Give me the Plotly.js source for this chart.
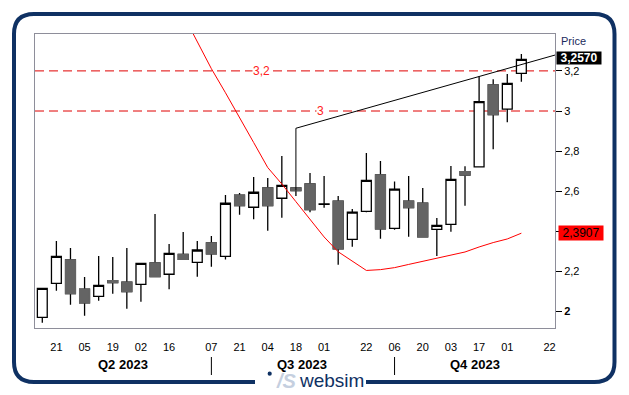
<!DOCTYPE html>
<html>
<head>
<meta charset="utf-8">
<script src="https://cdn.plot.ly/plotly-3.0.1.min.js"></script>
<style>
html,body{margin:0;padding:0;background:#fff;}
#chart{width:629px;height:395px;}
</style>
</head>
<body>
<div id="chart"></div>
<script>
// ---- data ----
const dates = ['2023-04-14','2023-04-21','2023-04-28','2023-05-05','2023-05-12','2023-05-19','2023-05-26',
  '2023-06-02','2023-06-09','2023-06-16','2023-06-23','2023-06-30','2023-07-07','2023-07-14','2023-07-21',
  '2023-07-28','2023-08-04','2023-08-11','2023-08-18','2023-08-25','2023-09-01','2023-09-08','2023-09-15',
  '2023-09-22','2023-09-29','2023-10-06','2023-10-13','2023-10-20','2023-10-27','2023-11-03','2023-11-10',
  '2023-11-17','2023-11-24','2023-12-01','2023-12-08'];
const openV  = [1.971,2.141,2.257,2.112,2.076,2.154,2.147,2.136,2.242,2.186,2.285,2.245,2.342,2.275,2.581,
  2.520,2.616,2.565,2.616,2.636,2.535,2.551,2.360,2.500,2.681,2.415,2.551,2.541,2.410,2.435,2.698,
  2.721,3.130,3.009,3.188];
const highV  = [2.116,2.352,2.317,2.172,2.277,2.272,2.317,2.240,2.486,2.337,2.397,2.352,2.377,2.581,2.591,
  2.671,2.666,2.776,2.616,2.691,2.676,2.576,2.511,2.791,2.751,2.648,2.676,2.616,2.466,2.726,2.724,
  3.172,3.158,3.185,3.284];
const lowV   = [1.944,2.104,2.034,1.979,2.054,2.089,2.014,2.049,2.174,2.111,2.260,2.174,2.223,2.260,2.483,
  2.460,2.403,2.468,2.576,2.495,2.518,2.233,2.323,2.495,2.363,2.408,2.373,2.373,2.277,2.398,2.528,
  2.721,2.809,2.944,3.146];
const closeV = [2.116,2.275,2.089,2.044,2.131,2.144,2.099,2.240,2.174,2.290,2.260,2.307,2.288,2.540,2.528,
  2.595,2.528,2.629,2.603,2.508,2.537,2.313,2.496,2.654,2.413,2.610,2.518,2.373,2.430,2.659,2.681,
  3.047,2.982,3.138,3.257];
const maV = [null,null,null,null,null,null,null,null,null,null,3.48,3.344,3.211,3.091,2.970,
  2.843,2.718,2.636,2.548,2.462,2.372,2.298,2.252,2.205,2.209,2.219,2.235,2.250,2.267,2.282,2.297,
  2.322,2.344,2.362,2.3907];
const trendX = ['2023-08-18','2023-08-18','2023-12-24 17:00'];
const trendY = [2.603,2.914,3.279];
const levels = [3.2, 3.0];
const levelLabels = ['3,2','3'];
const levelLabelX = ['2023-08-01','2023-08-30 10:00'];
const tickDates = ['2023-04-21','2023-05-05','2023-05-19','2023-06-02','2023-06-16','2023-07-07','2023-07-21',
  '2023-08-04','2023-08-18','2023-09-01','2023-09-22','2023-10-06','2023-10-20','2023-11-03','2023-11-17',
  '2023-12-01','2023-12-22'];
const tickText = ['21','05','19','02','16','07','21','04','18','01','22','06','20','03','17','01','22'];
const yTickVals = [2,2.2,2.4,2.6,2.8,3,3.2];
// the 2,4 label sits under the red last-value box in the reference, so it is left blank
const yTickText = ['<b>2</b>','2,2','','2,6','2,8','3','3,2'];
const quarterLabels = ['Q2 2023','Q3 2023','Q4 2023'];
const quarterX = ['2023-05-24','2023-08-21','2023-11-15'];
const quarterSeps = ['2023-07-07','2023-10-06'];
const lastPrice = 3.257, lastPriceText = '3,2570';
const lastMA = 2.3907, lastMAText = '2,3907';

// ---- geometry helpers (pixels -> paper) ----
const L = 35, T = 34, R = 555, B = 328;
const W = R - L, H = B - T;
const px = x => (x - L) / W;
const py = y => (B - y) / H;
const P = (x, y) => px(x).toFixed(5) + ',' + py(y).toFixed(5);

const NAVY = '#0f3163';
const FONT = 'Arial, "Liberation Sans", sans-serif';

// decreasing-only overlay (clean gray bodies over black wicks)
const dX = [], dO = [], dC = [];
for (let i = 0; i < dates.length; i++) {
  if (closeV[i] < openV[i]) { dX.push(dates[i]); dO.push(openV[i]); dC.push(closeV[i]); }
}

const traces = [
  {
    type: 'candlestick', x: dates, open: openV, high: highV, low: lowV, close: closeV,
    increasing: {line: {color: '#000', width: 1.3}, fillcolor: '#ffffff'},
    decreasing: {line: {color: '#000', width: 1.3}, fillcolor: '#646464'},
    whiskerwidth: 0, showlegend: false, hoverinfo: 'skip'
  },
  {
    type: 'candlestick', x: dX, open: dO, high: dO, low: dC, close: dC,
    increasing: {line: {color: '#646464', width: 1.3}, fillcolor: '#646464'},
    decreasing: {line: {color: '#646464', width: 1.3}, fillcolor: '#646464'},
    whiskerwidth: 0, showlegend: false, hoverinfo: 'skip'
  },
  {
    type: 'scatter', mode: 'lines', x: dates, y: maV,
    line: {color: '#ff0000', width: 1}, connectgaps: false, showlegend: false, hoverinfo: 'skip'
  },
  {
    type: 'scatter', mode: 'lines', x: trendX, y: trendY,
    line: {color: '#000000', width: 1}, showlegend: false, hoverinfo: 'skip'
  }
];

const shapes = [];
levels.forEach(v => shapes.push({
  type: 'line', xref: 'paper', yref: 'y', x0: 0, x1: 1, y0: v, y1: v,
  line: {color: '#e00000', width: 1, dash: '9px,5px'}, layer: 'below'
}));
quarterSeps.forEach(d => shapes.push({
  type: 'line', xref: 'x', yref: 'paper', x0: d, x1: d, y0: py(357), y1: py(375),
  line: {color: '#000', width: 1}
}));
// outer rounded frame with gap for logo
const frame = 'M' + P(255, 382) + ' L' + P(34, 382) + ' Q' + P(14, 382) + ' ' + P(14, 362) +
  ' L' + P(14, 34) + ' Q' + P(14, 14) + ' ' + P(34, 14) +
  ' L' + P(594.5, 14) + ' Q' + P(614.5, 14) + ' ' + P(614.5, 34) +
  ' L' + P(614.5, 362) + ' Q' + P(614.5, 382) + ' ' + P(594.5, 382) + ' L' + P(366, 382);
shapes.push({type: 'path', xref: 'paper', yref: 'paper', path: frame, line: {color: NAVY, width: 4}});
shapes.push({type: 'circle', xref: 'paper', yref: 'paper',
  x0: px(267.6), x1: px(271.8), y0: py(371.6), y1: py(375.8),
  fillcolor: NAVY, line: {width: 0}});

const annotations = [];
levels.forEach((v, i) => annotations.push({
  xref: 'x', yref: 'y', x: levelLabelX[i], y: v, xanchor: 'center', yanchor: 'middle',
  text: levelLabels[i], showarrow: false,
  font: {family: FONT, size: 12, color: '#ff2020'}, bgcolor: '#ffffff', borderpad: 0
}));
quarterLabels.forEach((t, i) => annotations.push({
  xref: 'x', yref: 'paper', x: quarterX[i], y: py(364), xanchor: 'center', yanchor: 'middle',
  text: '<b>' + t + '</b>', showarrow: false, font: {family: FONT, size: 13, color: '#000'}
}));
annotations.push({xref: 'paper', yref: 'paper', x: px(573), y: py(41), xanchor: 'center', yanchor: 'middle',
  text: 'Price', showarrow: false, font: {family: FONT, size: 11, color: '#1a2a5c'}});
annotations.push({xref: 'paper', yref: 'y', x: px(555.7), xanchor: 'left', y: lastPrice, yanchor: 'middle',
  yshift: 1, text: '<b>' + lastPriceText + '</b>', showarrow: false, bgcolor: '#000', width: 44, height: 12,
  font: {family: FONT, size: 12, color: '#fff'}, borderpad: 0});
annotations.push({xref: 'paper', yref: 'y', x: px(557.7), xanchor: 'left', y: lastMA, yanchor: 'middle',
  text: lastMAText, showarrow: false, bgcolor: '#ff0000', width: 44, height: 14,
  font: {family: FONT, size: 12, color: '#000'}, borderpad: 0});
annotations.push({xref: 'paper', yref: 'paper', x: px(286), y: py(381), xanchor: 'center', yanchor: 'middle',
  text: '<b><i>/S</i></b>', showarrow: false, font: {family: FONT, size: 20, color: '#c5cfdf'}});
annotations.push({xref: 'paper', yref: 'paper', x: px(331.5), y: py(380.5), xanchor: 'center', yanchor: 'middle',
  text: 'websim', showarrow: false,
  font: {family: FONT, size: 19, color: NAVY}});

const layout = {
  width: 629, height: 395,
  margin: {l: L, r: 629 - R, t: T, b: 395 - B, pad: 0},
  paper_bgcolor: '#ffffff', plot_bgcolor: '#ffffff',
  separators: ', ',
  showlegend: false,
  boxgap: 0.3, boxgroupgap: 0, boxmode: 'overlay',
  font: {family: FONT, color: '#000'},
  xaxis: {
    type: 'date', range: ['2023-04-10 09:00', '2023-12-24 17:00'],
    tickmode: 'array', tickvals: tickDates, ticktext: tickText,
    ticks: '', ticklabelstandoff: 9, showgrid: false, zeroline: false,
    showline: true, mirror: true, linecolor: '#8e8e9a', linewidth: 1,
    tickfont: {family: FONT, size: 11, color: '#000'},
    rangeslider: {visible: false}, fixedrange: true
  },
  yaxis: {
    side: 'right', range: [1.918, 3.384],
    tickmode: 'array', tickvals: yTickVals, ticktext: yTickText,
    ticks: 'outside', ticklen: 6, tickcolor: '#000', tickwidth: 1,
    showgrid: false, zeroline: false,
    showline: true, mirror: true, linecolor: '#8e8e9a', linewidth: 1,
    tickfont: {family: FONT, size: 11, color: '#000'}, fixedrange: true
  },
  shapes: shapes,
  annotations: annotations
};

Plotly.newPlot('chart', traces, layout, {displayModeBar: false, staticPlot: true});
</script>
</body>
</html>
